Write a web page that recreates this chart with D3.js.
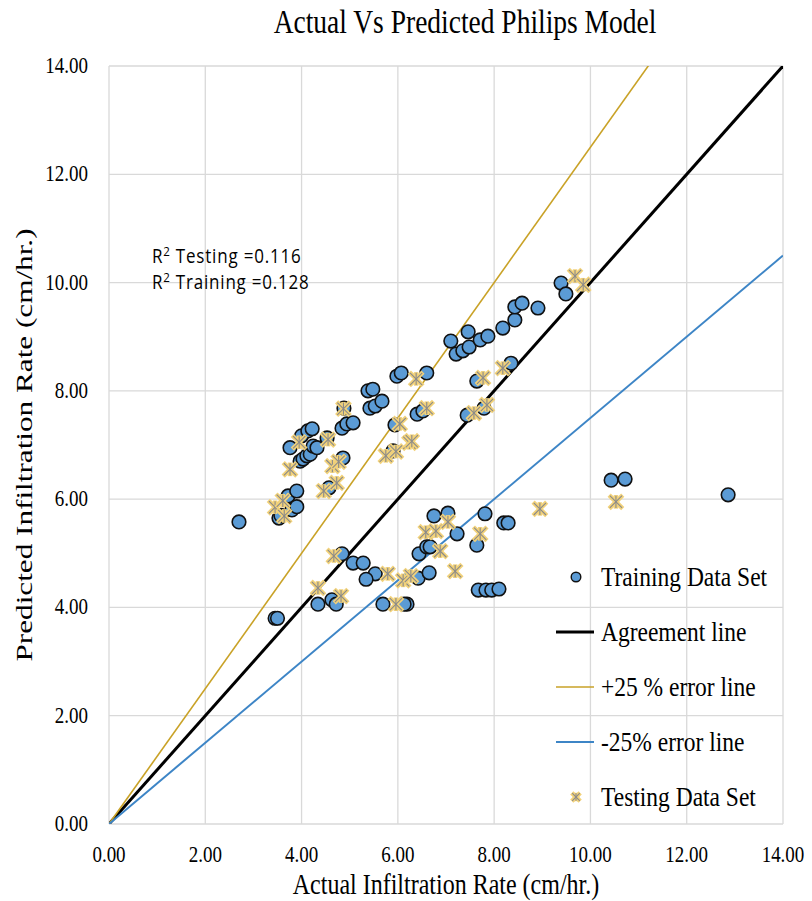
<!DOCTYPE html>
<html>
<head>
<meta charset="utf-8">
<script src="https://cdn.jsdelivr.net/npm/d3@7"></script>
<style>
  body { margin: 0; background: #fff; }
  svg { display: block; }
</style>
</head>
<body>
<div id="chart"></div>
<script>
// training points [actual, predicted]
var trainingData = [
  [2.70,5.58],[3.45,3.80],[3.50,3.80],[3.53,5.65],[3.57,5.70],[3.72,6.06],[3.80,5.80],
  [3.90,5.86],[3.90,6.15],[3.76,6.95],[3.97,6.70],[4.03,6.74],[4.11,6.80],[4.18,6.83],
  [4.24,6.98],[4.32,6.95],[4.00,7.17],[4.13,7.26],[4.22,7.30],[4.53,7.13],[4.57,6.21],
  [4.86,6.76],[4.84,7.31],[4.94,7.39],[5.07,7.41],[4.88,7.68],[5.38,8.00],[5.48,8.03],
  [5.42,7.68],[5.53,7.72],[5.67,7.81],[5.90,6.89],[5.94,7.37],[5.98,8.27],[6.07,8.33],
  [6.40,7.57],[6.52,7.63],[6.60,8.33],[7.10,8.92],[7.21,8.68],[7.35,8.74],[7.48,8.81],
  [7.46,9.09],[7.71,8.94],[7.87,9.01],[8.18,9.16],[8.43,9.31],[8.43,9.55],[8.58,9.62],
  [8.91,9.53],[9.39,9.99],[9.49,9.79],[8.35,8.51],[7.64,8.18],[7.44,7.55],[7.79,7.68],
  [4.84,4.99],[5.07,4.82],[5.28,4.82],[5.53,4.62],[5.34,4.52],[4.34,4.06],[4.63,4.14],
  [4.72,4.06],[5.69,4.06],[6.19,4.06],[6.13,4.06],[6.42,4.54],[6.65,4.64],[6.44,4.99],
  [6.60,5.12],[6.67,5.12],[6.75,5.69],[7.04,5.74],[7.23,5.36],[7.64,5.15],[7.81,5.73],
  [8.20,5.56],[8.29,5.56],[7.67,4.32],[7.83,4.32],[7.95,4.32],[8.10,4.34],
  [10.43,6.35],[10.72,6.37],[12.86,6.08]
];

// testing points [actual, predicted]
var testingData = [
  [3.45,5.85],[3.61,5.97],[3.64,5.69],[3.76,6.55],[3.95,7.05],[4.34,4.36],[4.46,6.15],
  [4.55,7.10],[4.64,6.61],[4.67,4.95],[4.73,6.30],[4.77,6.69],[4.82,4.21],[4.87,7.67],
  [5.75,6.80],[5.79,4.62],[5.96,4.06],[5.96,6.88],[6.04,7.39],[6.11,4.50],[6.24,7.04],
  [6.29,7.07],[6.27,4.58],[6.38,8.22],[6.58,5.39],[6.60,7.68],[6.79,5.41],[6.88,5.04],
  [7.04,5.58],[7.19,4.67],[7.58,7.59],[7.71,5.36],[7.77,8.24],[7.85,7.74],[8.18,8.42],
  [8.95,5.82],[9.68,10.12],[9.85,9.96],[10.53,5.95]
];

var tickValues = [0, 2, 4, 6, 8, 10, 12, 14];

// reference lines: slope of predicted vs actual
var refLines = [
  {name: "Agreement line",    slope: 1.00, color: "#000000", width: 3},
  {name: "+25 % error line",  slope: 1.25, color: "#C9A227", width: 1.6},
  {name: "-25% error line",   slope: 0.75, color: "#3D85C6", width: 2}
];

var r2Labels = [["Testing", "0.116"], ["Training", "0.128"]];

var W = 812, H = 901;
var margin = {top: 66, right: 29, bottom: 77, left: 109};
var iw = W - margin.left - margin.right,
    ih = H - margin.top - margin.bottom;
var stretch = 1.2; // the source picture is taller than wide, text looks stretched

var svg = d3.select("#chart").append("svg")
  .attr("width", W).attr("height", H);

var x = d3.scaleLinear().domain([0, 14]).range([0, iw]);
var y = d3.scaleLinear().domain([0, 14]).range([ih, 0]);

var g = svg.append("g")
  .attr("transform", "translate(" + margin.left + "," + margin.top + ")");

var serif = "'Liberation Serif', 'Times New Roman', serif";

// text placed at (px,py) and stretched vertically
function label(parent, px, py, str, size, anchor, rot) {
  return parent.append("text")
    .attr("transform", "translate(" + px + "," + py + ")" + (rot ? " rotate(" + rot + ")" : "") +
      (rot ? " scale(1.3,1)" : " scale(1," + stretch + ")"))
    .attr("text-anchor", anchor || "start")
    .style("font-family", serif).style("font-size", size + "px").style("fill", "#000")
    .text(str);
}

// grid
g.append("g").selectAll("line").data(tickValues).enter().append("line")
  .attr("x1", function(d){ return x(d); }).attr("x2", function(d){ return x(d); })
  .attr("y1", 0).attr("y2", ih)
  .style("stroke", "#d9d9d9").style("stroke-width", 1.3);
g.append("g").selectAll("line").data(tickValues).enter().append("line")
  .attr("y1", function(d){ return y(d); }).attr("y2", function(d){ return y(d); })
  .attr("x1", 0).attr("x2", iw)
  .style("stroke", "#d9d9d9").style("stroke-width", 1.3);

// tick labels
var fmt = d3.format(".2f");
tickValues.forEach(function(v){
  label(g, x(v), ih + 38, fmt(v), 19, "middle");
  label(g, -21, y(v) + 7, fmt(v), 19, "end");
});

// clip for the reference lines
svg.append("clipPath").attr("id", "plotClip").append("rect")
  .attr("width", iw).attr("height", ih);

var lines = g.append("g").attr("clip-path", "url(#plotClip)");
lines.selectAll("line").data(refLines).enter().append("line")
  .attr("x1", x(0)).attr("y1", y(0))
  .attr("x2", x(14)).attr("y2", function(d){ return y(14 * d.slope); })
  .style("stroke", function(d){ return d.color; })
  .style("stroke-width", function(d){ return d.width; });

// star marker for testing set
function star(sel, s) {
  var arms = [[-s, -s, s, s], [-s, s, s, -s], [0, -s, 0, s]];
  sel.selectAll("line.bg").data(arms).enter().append("line").attr("class", "bg")
    .attr("x1", function(a){ return a[0]; }).attr("y1", function(a){ return a[1]; })
    .attr("x2", function(a){ return a[2]; }).attr("y2", function(a){ return a[3]; })
    .style("stroke", "#F2D27A").style("stroke-width", 4.5);
  sel.selectAll("line.fg").data(arms).enter().append("line").attr("class", "fg")
    .attr("x1", function(a){ return a[0] * 0.9; }).attr("y1", function(a){ return a[1] * 0.9; })
    .attr("x2", function(a){ return a[2] * 0.9; }).attr("y2", function(a){ return a[3] * 0.9; })
    .style("stroke", "#8a8a8a").style("stroke-width", 1.1);
}

// training circles
g.append("g").selectAll("circle").data(trainingData).enter().append("circle")
  .attr("cx", function(d){ return x(d[0]); })
  .attr("cy", function(d){ return y(d[1]); })
  .attr("r", 6.8)
  .style("fill", "#5B9BD5").style("stroke", "#111").style("stroke-width", 1.6);

// testing stars
g.append("g").selectAll("g").data(testingData).enter().append("g")
  .attr("transform", function(d){ return "translate(" + x(d[0]) + "," + y(d[1]) + ")"; })
  .each(function(){ star(d3.select(this), 6.8); });

// title
label(svg, 465, 33, "Actual Vs Predicted Philips Model", 27.5, "middle");

// axis titles
label(svg, margin.left + iw / 2, 894, "Actual Infiltration Rate (cm/hr.)", 24, "middle");
label(svg, 32, margin.top + ih / 2, "Predicted Infiltration Rate (cm/hr.)", 24, "middle", -90);

// R2 annotations
r2Labels.forEach(function(d, i){
  var t = svg.append("text")
    .attr("transform", "translate(152," + (263 + i * 26) + ") scale(1,1.15)")
    .style("font-family", "'Open Sans', 'Liberation Sans', sans-serif").style("font-size", "17px")
    .style("letter-spacing", "0.8px");
  t.append("tspan").text("R");
  t.append("tspan").attr("dy", -6).style("font-size", "11.5px").text("2");
  t.append("tspan").attr("dy", 6).text(" " + d[0] + " =" + d[1]);
});

// legend
var legendItems = [
  {type: "circle", name: "Training Data Set"},
  {type: "line", ref: refLines[0]},
  {type: "line", ref: refLines[1]},
  {type: "line", ref: refLines[2]},
  {type: "star", name: "Testing Data Set"}
];
var leg = svg.append("g").selectAll("g").data(legendItems).enter().append("g")
  .attr("transform", function(d, i){ return "translate(576," + (577 + i * 55) + ")"; });
leg.each(function(d){
  var s = d3.select(this);
  if (d.type === "circle") {
    s.append("circle").attr("r", 4.8).style("fill", "#5B9BD5").style("stroke", "#111").style("stroke-width", 1.4);
  } else if (d.type === "star") {
    star(s, 4.2);
  } else {
    s.append("line").attr("x1", -20).attr("x2", 18)
      .style("stroke", d.ref.color).style("stroke-width", d.ref.width);
  }
  label(s, 25, 9, d.name || d.ref.name, 23.5, "start");
});
</script>
</body>
</html>
